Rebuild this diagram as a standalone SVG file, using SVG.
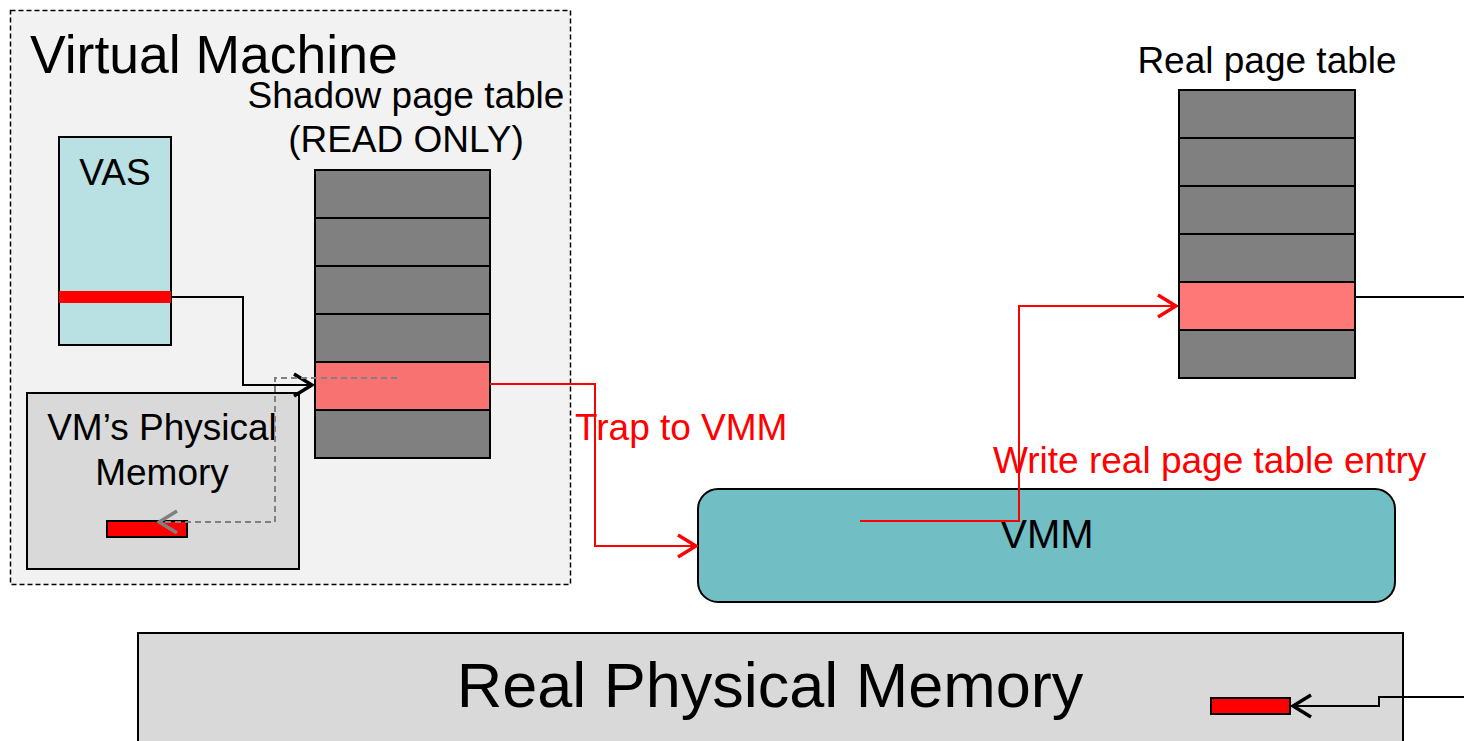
<svg xmlns="http://www.w3.org/2000/svg" width="1464" height="741" viewBox="0 0 1464 741">
  <defs>
    <style>
      text { font-family: "Liberation Sans", Arial, sans-serif; }
      .box { stroke: #000; stroke-width: 2; }
      .row { fill: #808080; stroke: #000; stroke-width: 2; }
      .hot { fill: #f87272; stroke: #000; stroke-width: 2; }
      .lbl { font-size: 37px; fill: #000; }
      .red { font-size: 37px; fill: #ff0000; }
      .wire { fill: none; stroke: #000; stroke-width: 2; }
      .wire-red { fill: none; stroke: #ff0000; stroke-width: 2; }
      .wire-gray { fill: none; stroke: #808080; stroke-width: 2; stroke-dasharray: 6 4; }
    </style>
    <marker id="head-red" viewBox="0 0 22 26" refX="21" refY="13" markerWidth="22" markerHeight="26" markerUnits="userSpaceOnUse" orient="auto">
      <path d="M2,2 L20,13 L2,24" fill="none" stroke="#ff0000" stroke-width="3.5"/>
    </marker>
    <marker id="head-black-lg" viewBox="0 0 22 26" refX="21" refY="13" markerWidth="22" markerHeight="26" markerUnits="userSpaceOnUse" orient="auto">
      <path d="M2,2 L20,13 L2,24" fill="none" stroke="#000" stroke-width="3.5"/>
    </marker>
    <marker id="head-gray" viewBox="0 0 22 26" refX="21" refY="13" markerWidth="22" markerHeight="26" markerUnits="userSpaceOnUse" orient="auto">
      <path d="M2,2 L20,13 L2,24" fill="none" stroke="#808080" stroke-width="3.5"/>
    </marker>
  </defs>

  <rect width="1464" height="741" fill="#ffffff"/>

  <!-- Virtual machine frame -->
  <g id="virtual-machine">
    <rect x="10.5" y="10.5" width="560" height="574" fill="#f2f2f2" stroke="#000" stroke-width="1.5" stroke-dasharray="5 3"/>
    <text x="30" y="73" font-size="53.5">Virtual Machine</text>
  </g>

  <!-- Virtual address space -->
  <g id="vas">
    <rect class="box" x="59" y="137" width="112" height="208" fill="#b9e0e3"/>
    <rect x="59" y="291" width="112" height="12" fill="#ff0000"/>
    <text class="lbl" x="115" y="185" text-anchor="middle" font-size="35">VAS</text>
  </g>

  <!-- Guest physical memory -->
  <g id="vm-physical-memory">
    <rect class="box" x="27" y="393" width="272" height="176" fill="#d9d9d9"/>
    <text class="lbl" x="162" y="440" text-anchor="middle">VM’s Physical</text>
    <text class="lbl" x="162" y="485" text-anchor="middle">Memory</text>
    <rect x="107" y="521" width="80" height="16" fill="#ff0000" stroke="#000" stroke-width="2"/>
  </g>

  <!-- Shadow page table -->
  <g id="shadow-page-table">
    <text class="lbl" x="406" y="108" text-anchor="middle">Shadow page table</text>
    <text class="lbl" x="406" y="152" text-anchor="middle">(READ ONLY)</text>
    <rect class="row" x="315" y="170" width="175" height="48"/>
    <rect class="row" x="315" y="218" width="175" height="48"/>
    <rect class="row" x="315" y="266" width="175" height="48"/>
    <rect class="row" x="315" y="314" width="175" height="48"/>
    <rect class="hot" x="315" y="362" width="175" height="48"/>
    <rect class="row" x="315" y="410" width="175" height="48"/>
  </g>

  <!-- Real page table -->
  <g id="real-page-table">
    <text class="lbl" x="1267" y="73" text-anchor="middle">Real page table</text>
    <rect class="row" x="1179" y="90" width="176" height="48"/>
    <rect class="row" x="1179" y="138" width="176" height="48"/>
    <rect class="row" x="1179" y="186" width="176" height="48"/>
    <rect class="row" x="1179" y="234" width="176" height="48"/>
    <rect x="1179" y="282" width="176" height="48" fill="#ff7878" stroke="#000" stroke-width="2"/>
    <rect class="row" x="1179" y="330" width="176" height="48"/>
  </g>

  <!-- Monitor -->
  <g id="vmm">
    <rect x="698" y="489" width="697" height="113" rx="20" ry="20" fill="#72bec5" stroke="#000" stroke-width="2"/>
    <text x="1047" y="548" text-anchor="middle" font-size="40">VMM</text>
  </g>

  <!-- Host physical memory -->
  <g id="real-physical-memory">
    <rect class="box" x="138" y="633" width="1265" height="120" fill="#d9d9d9"/>
    <text x="770" y="707" text-anchor="middle" font-size="63">Real Physical Memory</text>
    <rect x="1211" y="698" width="79" height="16" fill="#ff0000" stroke="#000" stroke-width="2"/>
  </g>

  <!-- Connectors -->
  <g id="connectors">
    <path class="wire" d="M171,297 H243 V385 H313" marker-end="url(#head-black-lg)"/>
    <path class="wire-gray" d="M397,378 H275 V522 H158" marker-end="url(#head-gray)"/>
    <path class="wire-red" d="M490,384 H595 V546 H697" marker-end="url(#head-red)"/>
    <path class="wire-red" d="M860,521 H1019 V306 H1177" marker-end="url(#head-red)"/>
    <path class="wire" d="M1355,297 H1464"/>
    <path class="wire" d="M1464,697 H1379 V706 H1292" marker-end="url(#head-black-lg)"/>
  </g>

  <!-- Labels on connectors -->
  <g id="labels">
    <text class="red" x="575" y="440">Trap to VMM</text>
    <text class="red" x="993" y="473">Write real page table entry</text>
  </g>
</svg>
